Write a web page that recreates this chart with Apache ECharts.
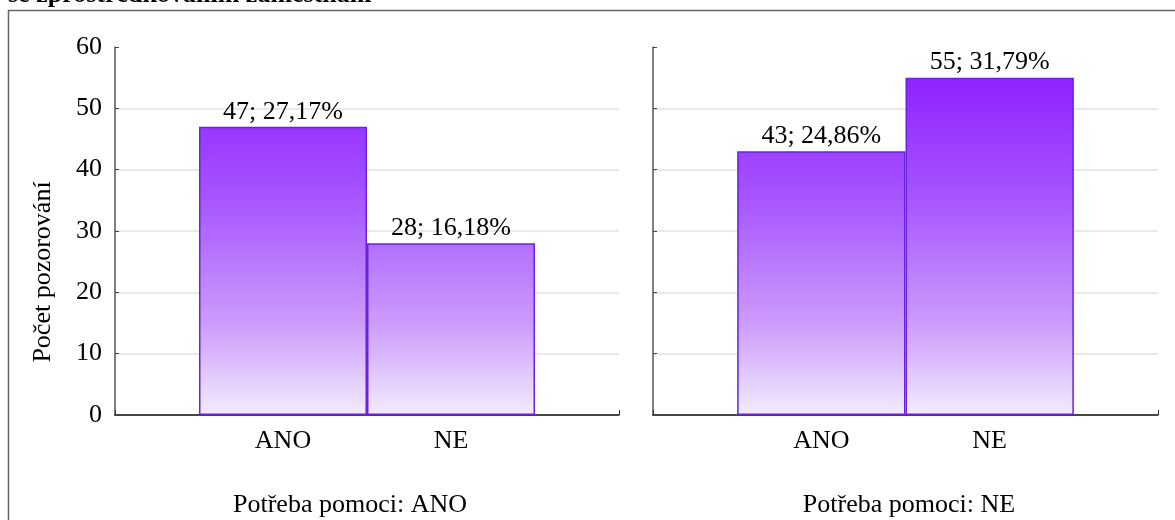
<!DOCTYPE html>
<html>
<head>
<meta charset="utf-8">
<title>Počet pozorování</title>
<script src="https://cdn.jsdelivr.net/npm/echarts@6/dist/echarts.min.js"></script>
<style>
  html, body { margin: 0; padding: 0; background: #fff; }
  #chart { width: 1175px; height: 520px; }
</style>
</head>
<body>
<div id="chart"></div>
<script>
// kategorie na ose x
const categories = ['ANO', 'NE']
// počty pozorování - panel "Potřeba pomoci: ANO" a "Potřeba pomoci: NE"
const countsPanelAno = [47, 28]
const countsPanelNe = [43, 55]
const panelTitles = ['Potřeba pomoci: ANO', 'Potřeba pomoci: NE']
// osa y
const yMin = 0
const yMax = 60
const yStep = 10

const FONT = '"Liberation Serif", "Times New Roman", serif'
const FS = 26
const total = [...countsPanelAno, ...countsPanelNe].reduce((a, b) => a + b, 0)

function pct(v) {
  return (v / total * 100).toFixed(2).replace('.', ',') + '%'
}

// prázdné krajní pozice, aby sloupce ležely na 1/3 a 2/3 osy
const axisData = ['', ...categories, '']

function barGradient() {
  return new echarts.graphic.LinearGradient(0, 47, 0, 415, [
    { offset: 0, color: '#8a14ff' },
    { offset: 0.4, color: '#a553ff' },
    { offset: 0.75, color: '#cc9bfb' },
    { offset: 1, color: '#f3ecfd' },
  ], true)
}

function xAxis(gridIndex) {
  return {
    type: 'category',
    gridIndex,
    data: axisData,
    boundaryGap: false,
    axisLine: { lineStyle: { color: '#111', width: 1.5 } },
    axisTick: { inside: true, length: 5, interval: 0, lineStyle: { color: '#333' } },
    axisLabel: { interval: 0, color: '#000', fontSize: FS, fontFamily: FONT, margin: 13 },
    splitLine: { show: false },
  }
}

function yAxis(gridIndex, showLabels) {
  return {
    type: 'value',
    gridIndex,
    min: yMin,
    max: yMax,
    interval: yStep,
    axisLine: { show: true, lineStyle: { color: '#555', width: 1.5 } },
    axisTick: { show: true, inside: true, length: 4, lineStyle: { color: '#444' } },
    axisLabel: { show: showLabels, color: '#000', fontSize: FS, fontFamily: FONT, margin: 13 },
    splitLine: { show: true, showMaxLine: false, lineStyle: { color: '#e2e2e2', width: 1.5 } },
  }
}

function barSeries(index, values) {
  return {
    type: 'bar',
    xAxisIndex: index,
    yAxisIndex: index,
    data: ['-', ...values, '-'],
    barWidth: '100%',
    itemStyle: {
      color: barGradient(),
      borderColor: '#6a22e0',
      borderWidth: 1.5,
    },
    label: {
      show: true,
      position: 'top',
      distance: 2,
      color: '#000',
      fontSize: FS,
      fontFamily: FONT,
      formatter: (p) => p.value + '; ' + pct(p.value),
    },
  }
}

const option = {
  animation: false,
  backgroundColor: '#fff',
  grid: [
    { left: 115, top: 47, width: 504, height: 368 },
    { left: 653, top: 47, width: 505, height: 368 },
  ],
  xAxis: [xAxis(0), xAxis(1)],
  yAxis: [yAxis(0, true), yAxis(1, false)],
  series: [barSeries(0, countsPanelAno), barSeries(1, countsPanelNe)],
  graphic: [
    {
      type: 'rect',
      z: -1,
      shape: { x: 8.5, y: 10.5, width: 1200, height: 560 },
      style: { fill: 'none', stroke: '#666', lineWidth: 1.5 },
    },
    {
      type: 'text',
      x: 8,
      y: -18,
      style: { text: 'se zprostředkováním zaměstnání', font: 'bold 26px ' + FONT, fill: '#000', verticalAlign: 'top' },
    },
    {
      type: 'text',
      x: 43,
      y: 272,
      rotation: Math.PI / 2,
      style: { text: 'Počet pozorování', font: FS + 'px ' + FONT, fill: '#000', align: 'center', verticalAlign: 'middle' },
    },
    {
      type: 'text',
      x: 350,
      y: 505,
      style: { text: panelTitles[0], font: FS + 'px ' + FONT, fill: '#000', align: 'center', verticalAlign: 'middle' },
    },
    {
      type: 'text',
      x: 909,
      y: 505,
      style: { text: panelTitles[1], font: FS + 'px ' + FONT, fill: '#000', align: 'center', verticalAlign: 'middle' },
    },
  ],
}

const chart = echarts.init(document.getElementById('chart'))
chart.setOption(option)
window.addEventListener('resize', () => chart.resize())
</script>
</body>
</html>
